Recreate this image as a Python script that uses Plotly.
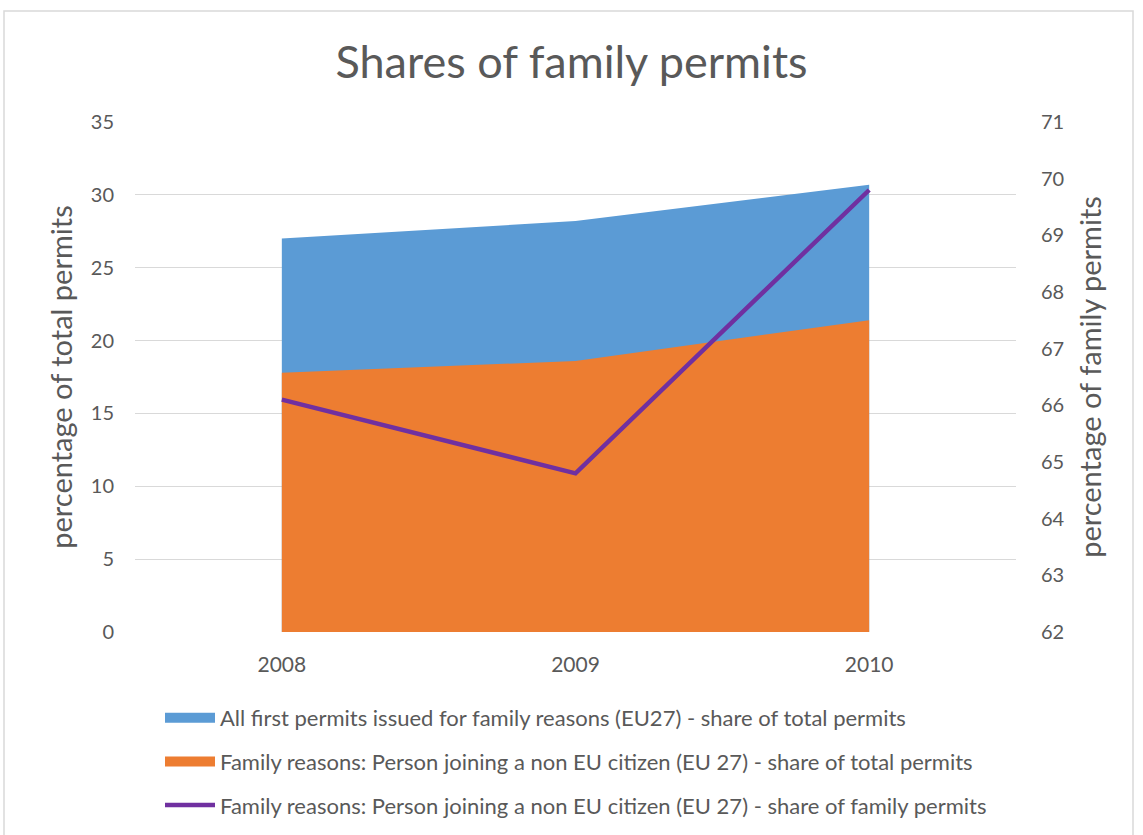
import plotly.graph_objects as go

years = ["2008", "2009", "2010"]
all_family_share_total = [27.0, 28.2, 30.7]
nonEU_share_total = [17.8, 18.6, 21.4]
nonEU_share_family = [66.1, 64.8, 69.8]

names = [
    "All first permits issued for family reasons (EU27) - share of total permits",
    "Family reasons: Person joining a non EU citizen (EU 27) - share of total permits",
    "Family reasons: Person joining a non EU citizen (EU 27) - share of family permits",
]
colors = ["#5b9bd5", "#ed7d31", "#7030a0"]

FONT = "Lato, 'Open Sans', sans-serif"
GRAY = "#595959"

fig = go.Figure()
fig.add_trace(go.Scatter(x=years, y=all_family_share_total, name=names[0], mode="none",
                         fill="tozeroy", fillcolor=colors[0], showlegend=False))
fig.add_trace(go.Scatter(x=years, y=nonEU_share_total, name=names[1], mode="none",
                         fill="tozeroy", fillcolor=colors[1], showlegend=False))
fig.add_trace(go.Scatter(x=years, y=nonEU_share_family, name=names[2], mode="lines",
                         line=dict(color=colors[2], width=4.5), yaxis="y2", legendgroup="c"))
# legend swatches for the two areas
for i in range(2):
    fig.add_trace(go.Scatter(x=[None], y=[None], name=names[i], mode="lines",
                             line=dict(color=colors[i], width=13), legendgroup="ab"[i],
                             legendrank=i + 1))
fig.data[2].legendrank = 3

L, R, T, B = 135, 127, 122, 203
W, H = 1143, 835
pw, ph = W - L - R, H - T - B

fig.update_layout(
    width=W, height=H,
    margin=dict(l=L, r=R, t=T, b=B, autoexpand=False),
    paper_bgcolor="white", plot_bgcolor="white",
    font=dict(family=FONT, color=GRAY, size=20),
    title=dict(text="Shares of family permits", x=0.5, xanchor="center",
               y=1 - 62 / H, yanchor="middle", font=dict(size=45, color=GRAY)),
    xaxis=dict(type="category", range=[-0.5, 2.5], showgrid=False, showline=False,
               ticks="", ticklabelstandoff=18, tickfont=dict(size=21, color=GRAY)),
    yaxis=dict(range=[0, 35], dtick=5, showgrid=True, gridcolor="#d9d9d9", gridwidth=1,
               zeroline=False, showline=False, ticks="", ticklabelstandoff=20,
               title=dict(text="percentage of total permits", font=dict(size=29, color=GRAY),
                          standoff=9),
               tickfont=dict(size=20, color=GRAY)),
    yaxis2=dict(range=[62, 71], dtick=1, overlaying="y", side="right", showgrid=False,
                zeroline=False, showline=False, ticks="", ticklabelstandoff=24,
                title=dict(text="percentage of family permits", font=dict(size=29, color=GRAY),
                           standoff=17),
                tickfont=dict(size=20, color=GRAY)),
    legend=dict(x=(160 - L) / pw, xanchor="left", y=(T + ph - 697) / ph, yanchor="top",
                traceorder="grouped", tracegroupgap=12,
                font=dict(size=22, color=GRAY), bgcolor="rgba(0,0,0,0)",
                itemwidth=50),
    showlegend=True,
)

fig.add_shape(type="rect", xref="paper", yref="paper",
              x0=(4 - L) / pw, x1=(1133 - L) / pw,
              y0=(T + ph - 845) / ph, y1=(T + ph - 11) / ph,
              line=dict(color="#d9d9d9", width=1.5), fillcolor="rgba(0,0,0,0)", layer="below")

fig.write_html("out.html", config={"displayModeBar": False})

with open("out.html", encoding="utf-8") as f:
    html = f.read()
html = html.replace("<body>", "<body style=\"margin:0;overflow:hidden\">", 1)
with open("out.html", "w", encoding="utf-8") as f:
    f.write(html)
